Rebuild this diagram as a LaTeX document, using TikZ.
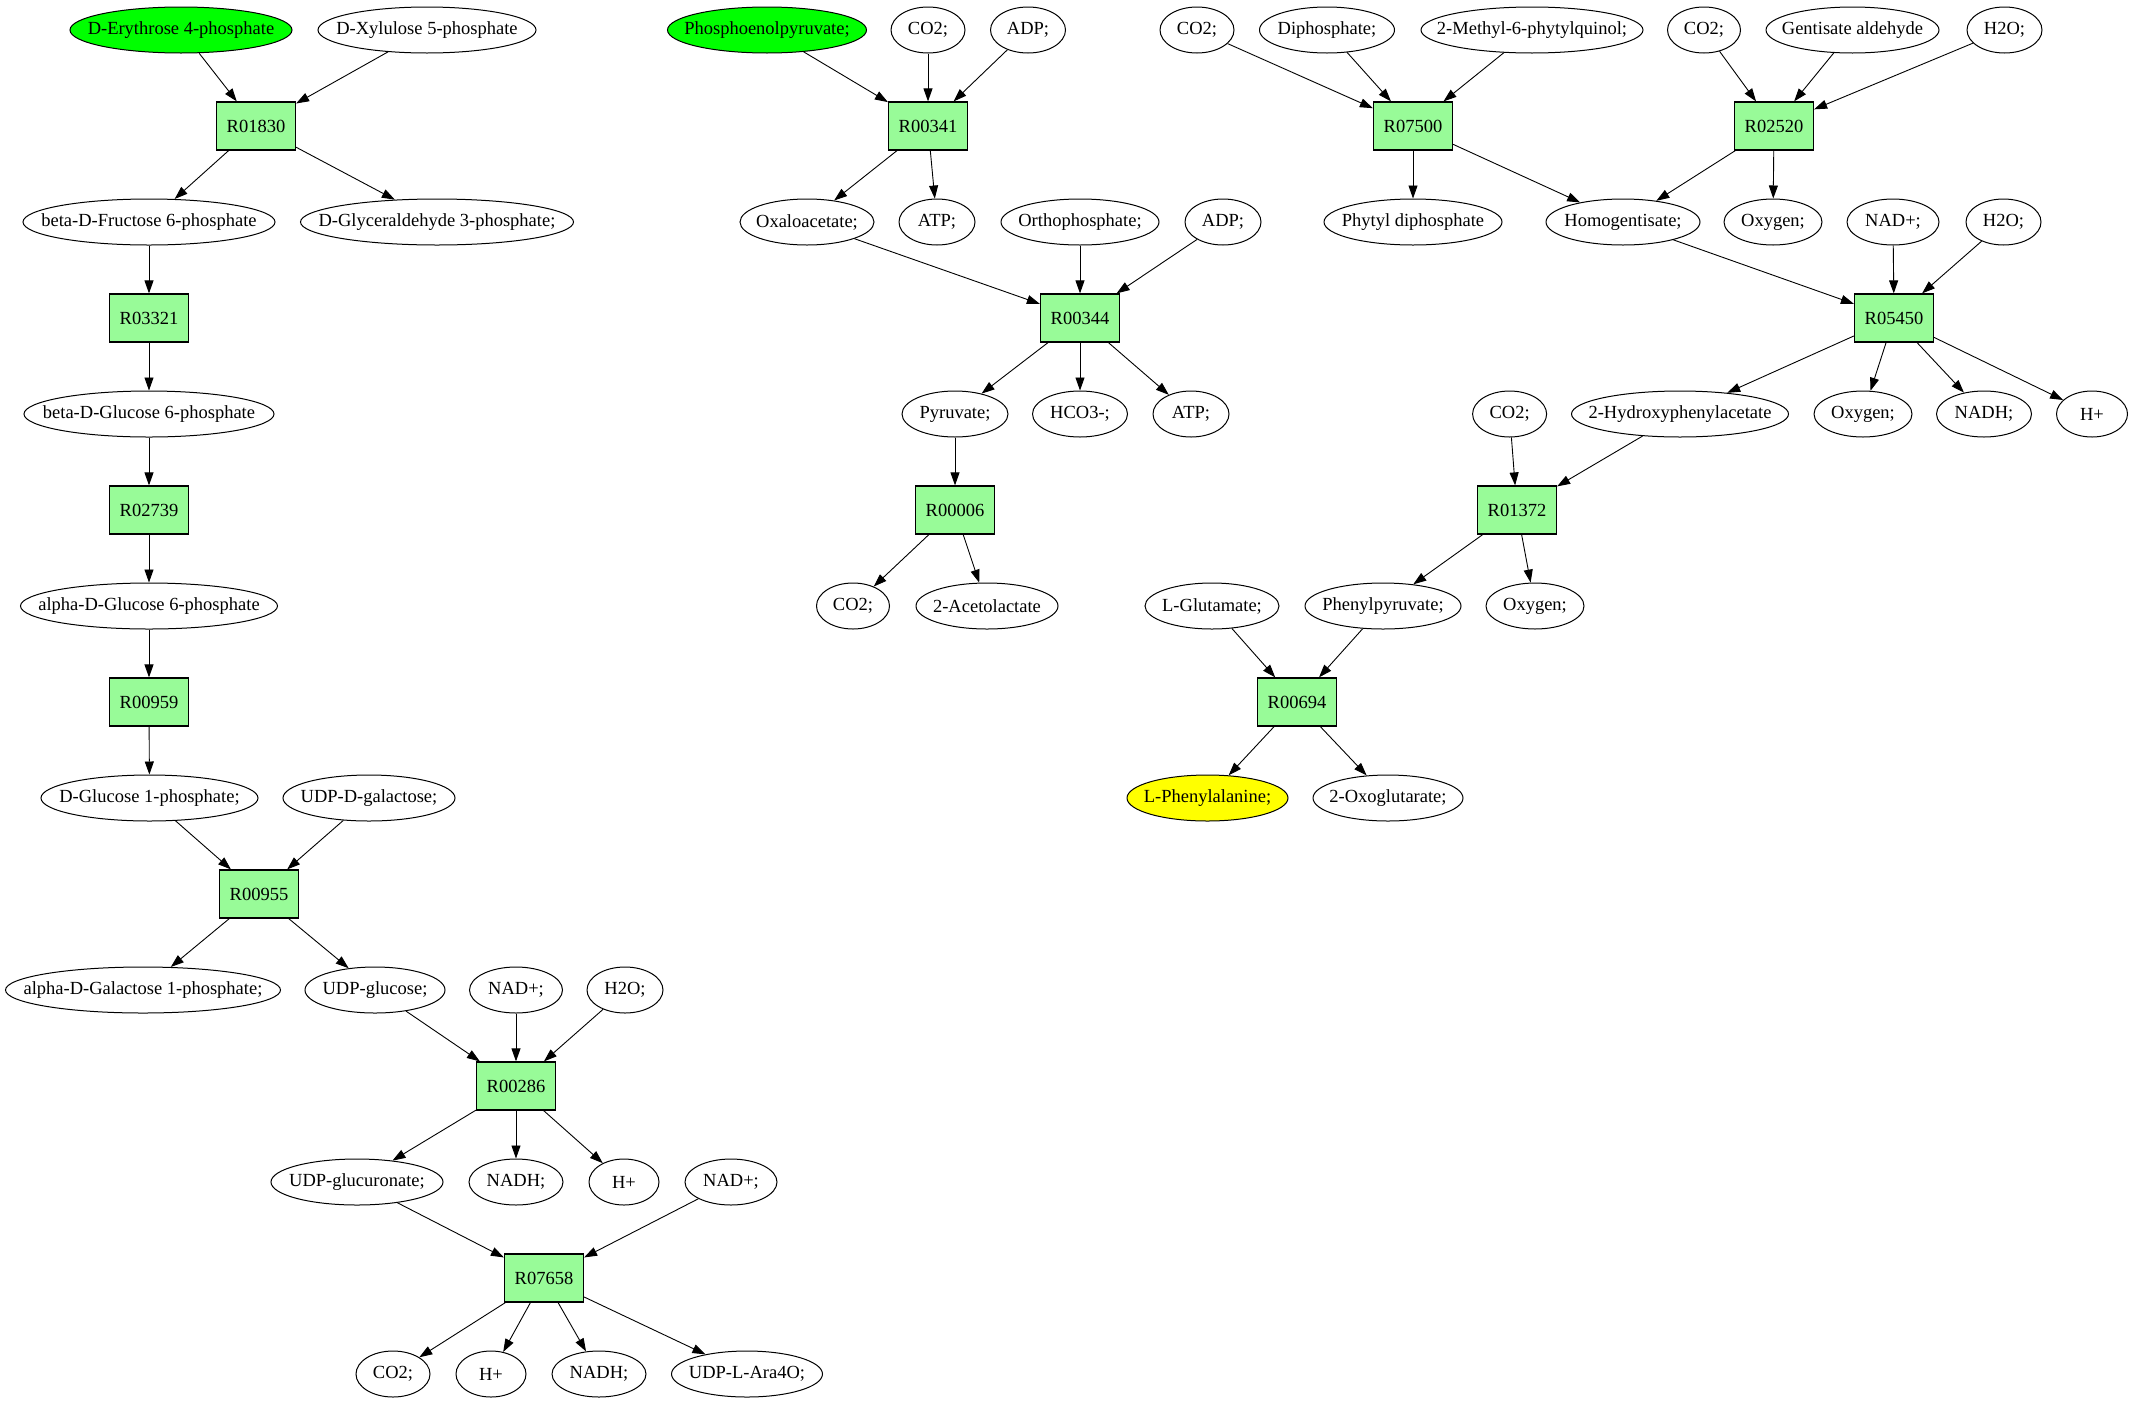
\documentclass[tikz,border=0pt]{standalone}
\usepackage{fontspec}
\setmainfont{Liberation Serif}
\usetikzlibrary{shapes.geometric,arrows.meta}
\definecolor{palegreen}{HTML}{98FB98}
\definecolor{puregreen}{HTML}{00FF00}
\definecolor{pureyellow}{HTML}{FFFF00}
\begin{document}
\begin{tikzpicture}[x=1pt,y=-1pt,
  font=\fontsize{18.5}{22}\selectfont,
  met/.style={ellipse, draw, line width=1pt, inner xsep=-300pt, inner ysep=-300pt,
              minimum height=46pt, minimum width=#1},
  rxn/.style={rectangle, draw, fill=palegreen, line width=1.2pt, inner sep=0pt,
              minimum width=79pt, minimum height=48pt},
  arr/.style={-{Triangle[length=13pt,width=9pt]}, line width=0.9pt}]
\useasboundingbox (0,0) rectangle (2133,1403);
% row 0
\node[met=222, fill=puregreen] (ery) at (181,30) {D-Erythrose 4-phosphate};
\node[met=218] (xyl) at (427,30) {D-Xylulose 5-phosphate};
\node[met=199, fill=puregreen] (pep) at (767,30) {Phosphoenolpyruvate;};
\node[met=74] (co2b) at (928,30) {CO2;};
\node[met=75] (adpb) at (1028,30) {ADP;};
\node[met=74] (co2d) at (1197,30) {CO2;};
\node[met=135] (diph) at (1327,30) {Diphosphate;};
\node[met=222] (mpq) at (1532,30) {2-Methyl-6-phytylquinol;};
\node[met=73] (co2e) at (1704,30) {CO2;};
\node[met=173] (gent) at (1852.5,30) {Gentisate aldehyde};
\node[met=75] (h2ob) at (2004.5,30) {H2O;};
% row 1
\node[rxn] (r01830) at (256,126) {R01830};
\node[rxn] (r00341) at (928,126) {R00341};
\node[rxn] (r07500) at (1413,126) {R07500};
\node[rxn] (r02520) at (1774,126) {R02520};
% row 2
\node[met=252] (bfru) at (149,222) {beta-D-Fructose 6-phosphate};
\node[met=273] (glyc) at (437,222) {D-Glyceraldehyde 3-phosphate;};
\node[met=134] (oaa) at (807,222) {Oxaloacetate;};
\node[met=76] (atpb) at (937,222) {ATP;};
\node[met=158] (orth) at (1080,222) {Orthophosphate;};
\node[met=76] (adpc) at (1223,222) {ADP;};
\node[met=178] (phyt) at (1413,222) {Phytyl diphosphate};
\node[met=154] (homo) at (1623,222) {Homogentisate;};
\node[met=98] (oxy1) at (1773,222) {Oxygen;};
\node[met=92] (nadc) at (1893,222) {NAD+;};
\node[met=75] (h2oc) at (2003.5,222) {H2O;};
% row 3
\node[rxn] (r03321) at (149,318) {R03321};
\node[rxn] (r00344) at (1080,318) {R00344};
\node[rxn] (r05450) at (1894,318) {R05450};
% row 4
\node[met=250] (bglc) at (149,414) {beta-D-Glucose 6-phosphate};
\node[met=106] (pyr) at (955,414) {Pyruvate;};
\node[met=95] (hco3) at (1080,414) {HCO3-;};
\node[met=76] (atpc) at (1191,414) {ATP;};
\node[met=74] (co2f) at (1509.6,414) {CO2;};
\node[met=217] (hpa) at (1680,414) {2-Hydroxyphenylacetate};
\node[met=98] (oxy2) at (1863,414) {Oxygen;};
\node[met=95] (nadhc) at (1984,414) {NADH;};
\node[met=71] (hc) at (2092,414) {H+};
% row 5
\node[rxn] (r02739) at (149,510) {R02739};
\node[rxn] (r00006) at (955,510) {R00006};
\node[rxn] (r01372) at (1517,510) {R01372};
% row 6
\node[met=257] (aglc) at (149,606) {alpha-D-Glucose 6-phosphate};
\node[met=73] (co2c) at (853,606) {CO2;};
\node[met=142] (acet) at (987,606) {2-Acetolactate};
\node[met=134] (glu) at (1212,606) {L-Glutamate;};
\node[met=156] (php) at (1383,606) {Phenylpyruvate;};
\node[met=98] (oxy3) at (1535,606) {Oxygen;};
% row 7
\node[rxn] (r00959) at (149,702) {R00959};
\node[rxn] (r00694) at (1297,702) {R00694};
% row 8
\node[met=217] (glc1) at (149.5,798) {D-Glucose 1-phosphate;};
\node[met=172] (udpgal) at (369,798) {UDP-D-galactose;};
\node[met=161, fill=pureyellow] (phe) at (1207.5,798) {L-Phenylalanine;};
\node[met=150] (og) at (1388,798) {2-Oxoglutarate;};
% row 9
\node[rxn] (r00955) at (259,894) {R00955};
% row 10
\node[met=275] (agal) at (143,990) {alpha-D-Galactose 1-phosphate;};
\node[met=140] (udpglc) at (375,990) {UDP-glucose;};
\node[met=93] (nada) at (516,990) {NAD+;};
\node[met=76] (h2oa) at (625,990) {H2O;};
% row 11
\node[rxn] (r00286) at (516,1086) {R00286};
% row 12
\node[met=172] (udpga) at (357,1182) {UDP-glucuronate;};
\node[met=94] (nadha) at (516,1182) {NADH;};
\node[met=70] (ha) at (624,1182) {H+};
\node[met=92] (nadb) at (731,1182) {NAD+;};
% row 13
\node[rxn] (r07658) at (544,1278) {R07658};
% row 14
\node[met=74] (co2a) at (393,1374) {CO2;};
\node[met=70] (hb) at (491,1374) {H+};
\node[met=94] (nadhb) at (599,1374) {NADH;};
\node[met=151] (ara) at (747,1374) {UDP-L-Ara4O;};
% edges
\draw[arr] (ery) -- (r01830);
\draw[arr] (xyl) -- (r01830);
\draw[arr] (r01830) -- (bfru);
\draw[arr] (r01830) -- (glyc);
\draw[arr] (bfru) -- (r03321);
\draw[arr] (r03321) -- (bglc);
\draw[arr] (bglc) -- (r02739);
\draw[arr] (r02739) -- (aglc);
\draw[arr] (aglc) -- (r00959);
\draw[arr] (r00959) -- (glc1);
\draw[arr] (glc1) -- (r00955);
\draw[arr] (udpgal) -- (r00955);
\draw[arr] (r00955) -- (agal);
\draw[arr] (r00955) -- (udpglc);
\draw[arr] (udpglc) -- (r00286);
\draw[arr] (nada) -- (r00286);
\draw[arr] (h2oa) -- (r00286);
\draw[arr] (r00286) -- (udpga);
\draw[arr] (r00286) -- (nadha);
\draw[arr] (r00286) -- (ha);
\draw[arr] (udpga) -- (r07658);
\draw[arr] (nadb) -- (r07658);
\draw[arr] (r07658) -- (co2a);
\draw[arr] (r07658) -- (hb);
\draw[arr] (r07658) -- (nadhb);
\draw[arr] (r07658) -- (ara);
\draw[arr] (pep) -- (r00341);
\draw[arr] (co2b) -- (r00341);
\draw[arr] (adpb) -- (r00341);
\draw[arr] (r00341) -- (oaa);
\draw[arr] (r00341) -- (atpb);
\draw[arr] (oaa) -- (r00344);
\draw[arr] (orth) -- (r00344);
\draw[arr] (adpc) -- (r00344);
\draw[arr] (r00344) -- (pyr);
\draw[arr] (r00344) -- (hco3);
\draw[arr] (r00344) -- (atpc);
\draw[arr] (pyr) -- (r00006);
\draw[arr] (r00006) -- (co2c);
\draw[arr] (r00006) -- (acet);
\draw[arr] (co2d) -- (r07500);
\draw[arr] (diph) -- (r07500);
\draw[arr] (mpq) -- (r07500);
\draw[arr] (r07500) -- (phyt);
\draw[arr] (r07500) -- (homo);
\draw[arr] (co2e) -- (r02520);
\draw[arr] (gent) -- (r02520);
\draw[arr] (h2ob) -- (r02520);
\draw[arr] (r02520) -- (homo);
\draw[arr] (r02520) -- (oxy1);
\draw[arr] (homo) -- (r05450);
\draw[arr] (nadc) -- (r05450);
\draw[arr] (h2oc) -- (r05450);
\draw[arr] (r05450) -- (hpa);
\draw[arr] (r05450) -- (oxy2);
\draw[arr] (r05450) -- (nadhc);
\draw[arr] (r05450) -- (hc);
\draw[arr] (co2f) -- (r01372);
\draw[arr] (hpa) -- (r01372);
\draw[arr] (r01372) -- (php);
\draw[arr] (r01372) -- (oxy3);
\draw[arr] (glu) -- (r00694);
\draw[arr] (php) -- (r00694);
\draw[arr] (r00694) -- (phe);
\draw[arr] (r00694) -- (og);
\end{tikzpicture}
\end{document}
